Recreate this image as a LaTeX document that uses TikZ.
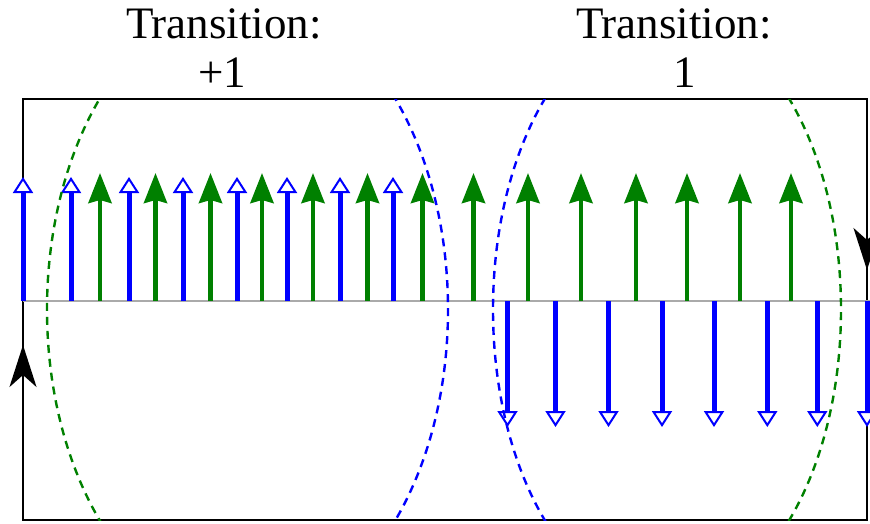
\documentclass[tikz,border=0pt]{standalone}
\usepackage{fontspec}
\setmainfont{Liberation Serif}
\usetikzlibrary{arrows.meta}
\definecolor{vgreen}{RGB}{0,128,0}
\definecolor{vblue}{RGB}{0,0,255}
\definecolor{axisgray}{RGB}{170,170,170}
\begin{document}
\begin{tikzpicture}[x=1pt,y=-1pt,
  frame/.style={draw=black, line width=2.2pt},
  axisline/.style={draw=axisgray, line width=2.5pt},
  greenvec/.style={draw=vgreen, line width=4.5pt, -{Stealth[length=30pt,width=23pt,inset=3pt]}},
  bluevec/.style={draw=vblue, line width=5pt, -{Triangle[length=16pt,width=20pt,fill=white,line width=2pt]}},
  flowarrow/.style={draw=black, line width=2.2pt, -{Stealth[length=42pt,width=27pt,inset=12pt]}},
  wallgreen/.style={draw=vgreen, line width=2.4pt, dash pattern=on 8pt off 6pt},
  wallblue/.style={draw=vblue, line width=2.4pt, dash pattern=on 8pt off 6pt},
  title/.style={font=\fontsize{45}{49}\selectfont, anchor=base, inner sep=0pt}
]
\useasboundingbox (0,0) rectangle (870,523);

% titles
\node[title] (t1a) at (224,38) {Transition:};
\node[title] (t1b) at (222,87) {+1};
\node[title] (t2a) at (674,38) {Transition:};
\node[title] (t2b) at (685,87) {1};

% frame
\coordinate (tl) at (23,99);
\coordinate (br) at (867,520);
\draw[frame] (tl) rectangle (br);

% axis
\coordinate (axL) at (23,301);
\coordinate (axR) at (872,301);
\draw[axisline] (axL) -- (axR);

% green up vectors
\foreach \x in {100,155.5,210.5,262,313,367.5,422.5,473.5,528,581,636,687,740,791}
  \draw[greenvec] (\x,301) -- (\x,173);

% blue up vectors
\foreach \x in {23,71,129,183,237,287,340,393}
  \draw[bluevec] (\x,301) -- (\x,177);

% blue down vectors
\foreach \x in {507.5,555.5,608.5,662,714,767.3,817.3,867}
  \draw[bluevec] (\x,301) -- (\x,427);

% circulation arrows on frame
\coordinate (la0) at (23,440);
\coordinate (la1) at (23,345);
\draw[flowarrow] (la0) -- (la1);
\coordinate (ra0) at (867,200);
\coordinate (ra1) at (867,270);
\draw[flowarrow] (ra0) -- (ra1);

% domain wall ellipses
\begin{scope}
  \clip (tl) rectangle (br);
  \coordinate (c1) at (247.5,309.5);
  \coordinate (c2) at (667,309.5);
  \draw[wallgreen] (c1) ++(90:200.5 and 312) arc[start angle=90,end angle=270,x radius=200.5,y radius=312];
  \draw[wallblue] (c1) ++(-90:200.5 and 312) arc[start angle=-90,end angle=90,x radius=200.5,y radius=312];
  \draw[wallblue] (c2) ++(90:174 and 296) arc[start angle=90,end angle=270,x radius=174,y radius=296];
  \draw[wallgreen] (c2) ++(-90:174 and 296) arc[start angle=-90,end angle=90,x radius=174,y radius=296];
\end{scope}
\end{tikzpicture}
\end{document}
